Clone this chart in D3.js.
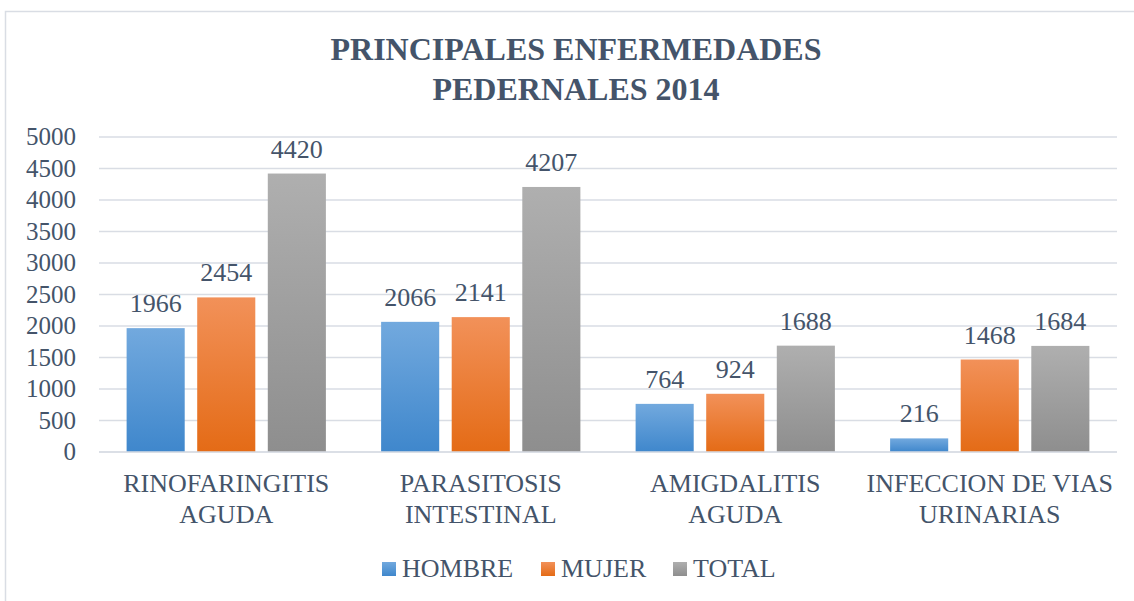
<!DOCTYPE html>
<html><head><meta charset="utf-8">
<script src="https://cdn.jsdelivr.net/npm/d3@7"></script>
<style>body{margin:0;background:#fff}svg{display:block}</style>
</head><body><svg id="c" width="1134" height="601"></svg>
<script>
const categories = [["RINOFARINGITIS","AGUDA"],["PARASITOSIS","INTESTINAL"],["AMIGDALITIS","AGUDA"],["INFECCION DE VIAS","URINARIAS"]];
const seriesNames = ["HOMBRE","MUJER","TOTAL"];
const hombre = [1966,2066,764,216];
const mujer = [2454,2141,924,1468];
const total = [4420,4207,1688,1684];
const yTicks = [0,500,1000,1500,2000,2500,3000,3500,4000,4500,5000];
const titleLines = ["PRINCIPALES ENFERMEDADES","PEDERNALES 2014"];

(function(){
const FONT = "Liberation Serif";
const TXT = "#44546a";
const values = [hombre, mujer, total];
const grads = [["#72a9de","#3f87cc"],["#f29159","#e46b16"],["#afafaf","#8e8e8e"]];

const svg = d3.select("#c");
svg.append("rect").attr("x",5.5).attr("y",11.5).attr("width",1150).attr("height",620).attr("fill","#fff").attr("stroke","#d9dde4").attr("stroke-width",1.5);

const defs = svg.append("defs");
grads.forEach((g,i)=>{
  const lg = defs.append("linearGradient").attr("id","g"+i).attr("x1",0).attr("y1",0).attr("x2",0).attr("y2",1);
  lg.append("stop").attr("offset","0%").attr("stop-color",g[0]);
  lg.append("stop").attr("offset","100%").attr("stop-color",g[1]);
});

function txt(x,y,s,size,anchor,bold){
  return svg.append("text").attr("x",x).attr("y",y).attr("text-anchor",anchor||"middle")
    .style("font-family",FONT).style("font-size",size+"px").style("fill",TXT)
    .style("font-weight",bold?"bold":"normal").text(s);
}

const pL=99,pR=1117,pT=137,pB=452;
const y = d3.scaleLinear().domain([0,5000]).range([pB,pT]);
const x0 = d3.scaleBand().domain(d3.range(categories.length)).range([pL,pR]).paddingInner(0.217).paddingOuter(0.1085);
const x1 = d3.scaleBand().domain(d3.range(seriesNames.length)).range([0,x0.bandwidth()]).paddingInner(0.177);

svg.append("g").selectAll("line").data(yTicks).join("line")
  .attr("x1",pL).attr("x2",pR).attr("y1",d=>y(d)).attr("y2",d=>y(d))
  .attr("stroke","#d9dde4").attr("stroke-width",1.5);

const ya = svg.append("g").attr("transform",`translate(${pL},0)`)
  .call(d3.axisLeft(y).tickValues(yTicks).tickFormat(d3.format("d")).tickSize(0).tickPadding(23));
ya.select(".domain").remove();
ya.selectAll("text").style("font-size","25px").style("fill",TXT).style("font-family",FONT).attr("dy","0.3em");

categories.forEach((c,ci)=>{
  values.forEach((arr,si)=>{
    const bx = x0(ci)+x1(si);
    svg.append("rect").attr("x",bx).attr("y",y(arr[ci])).attr("width",x1.bandwidth())
      .attr("height",pB-y(arr[ci])).attr("fill",`url(#g${si})`);
    txt(bx+x1.bandwidth()/2, y(arr[ci])-16, arr[ci], 26);
  });
  const cx = x0(ci)+x0.bandwidth()/2;
  c.forEach((ln,li)=>{ txt(cx, 492+li*31, ln, 26); });
});

svg.append("line").attr("x1",pL).attr("x2",pR).attr("y1",pB).attr("y2",pB).attr("stroke","#d9dde4").attr("stroke-width",1.5);

titleLines.forEach((t,i)=>{ txt(576, 60+i*40, t, 32, "middle", true); });

const lx = [382,541,673];
seriesNames.forEach((n,i)=>{
  svg.append("rect").attr("x",lx[i]).attr("y",562).attr("width",14).attr("height",14).attr("fill",`url(#g${i})`);
  txt(lx[i]+20, 577, n, 26, "start");
});
})();
</script></body></html>
